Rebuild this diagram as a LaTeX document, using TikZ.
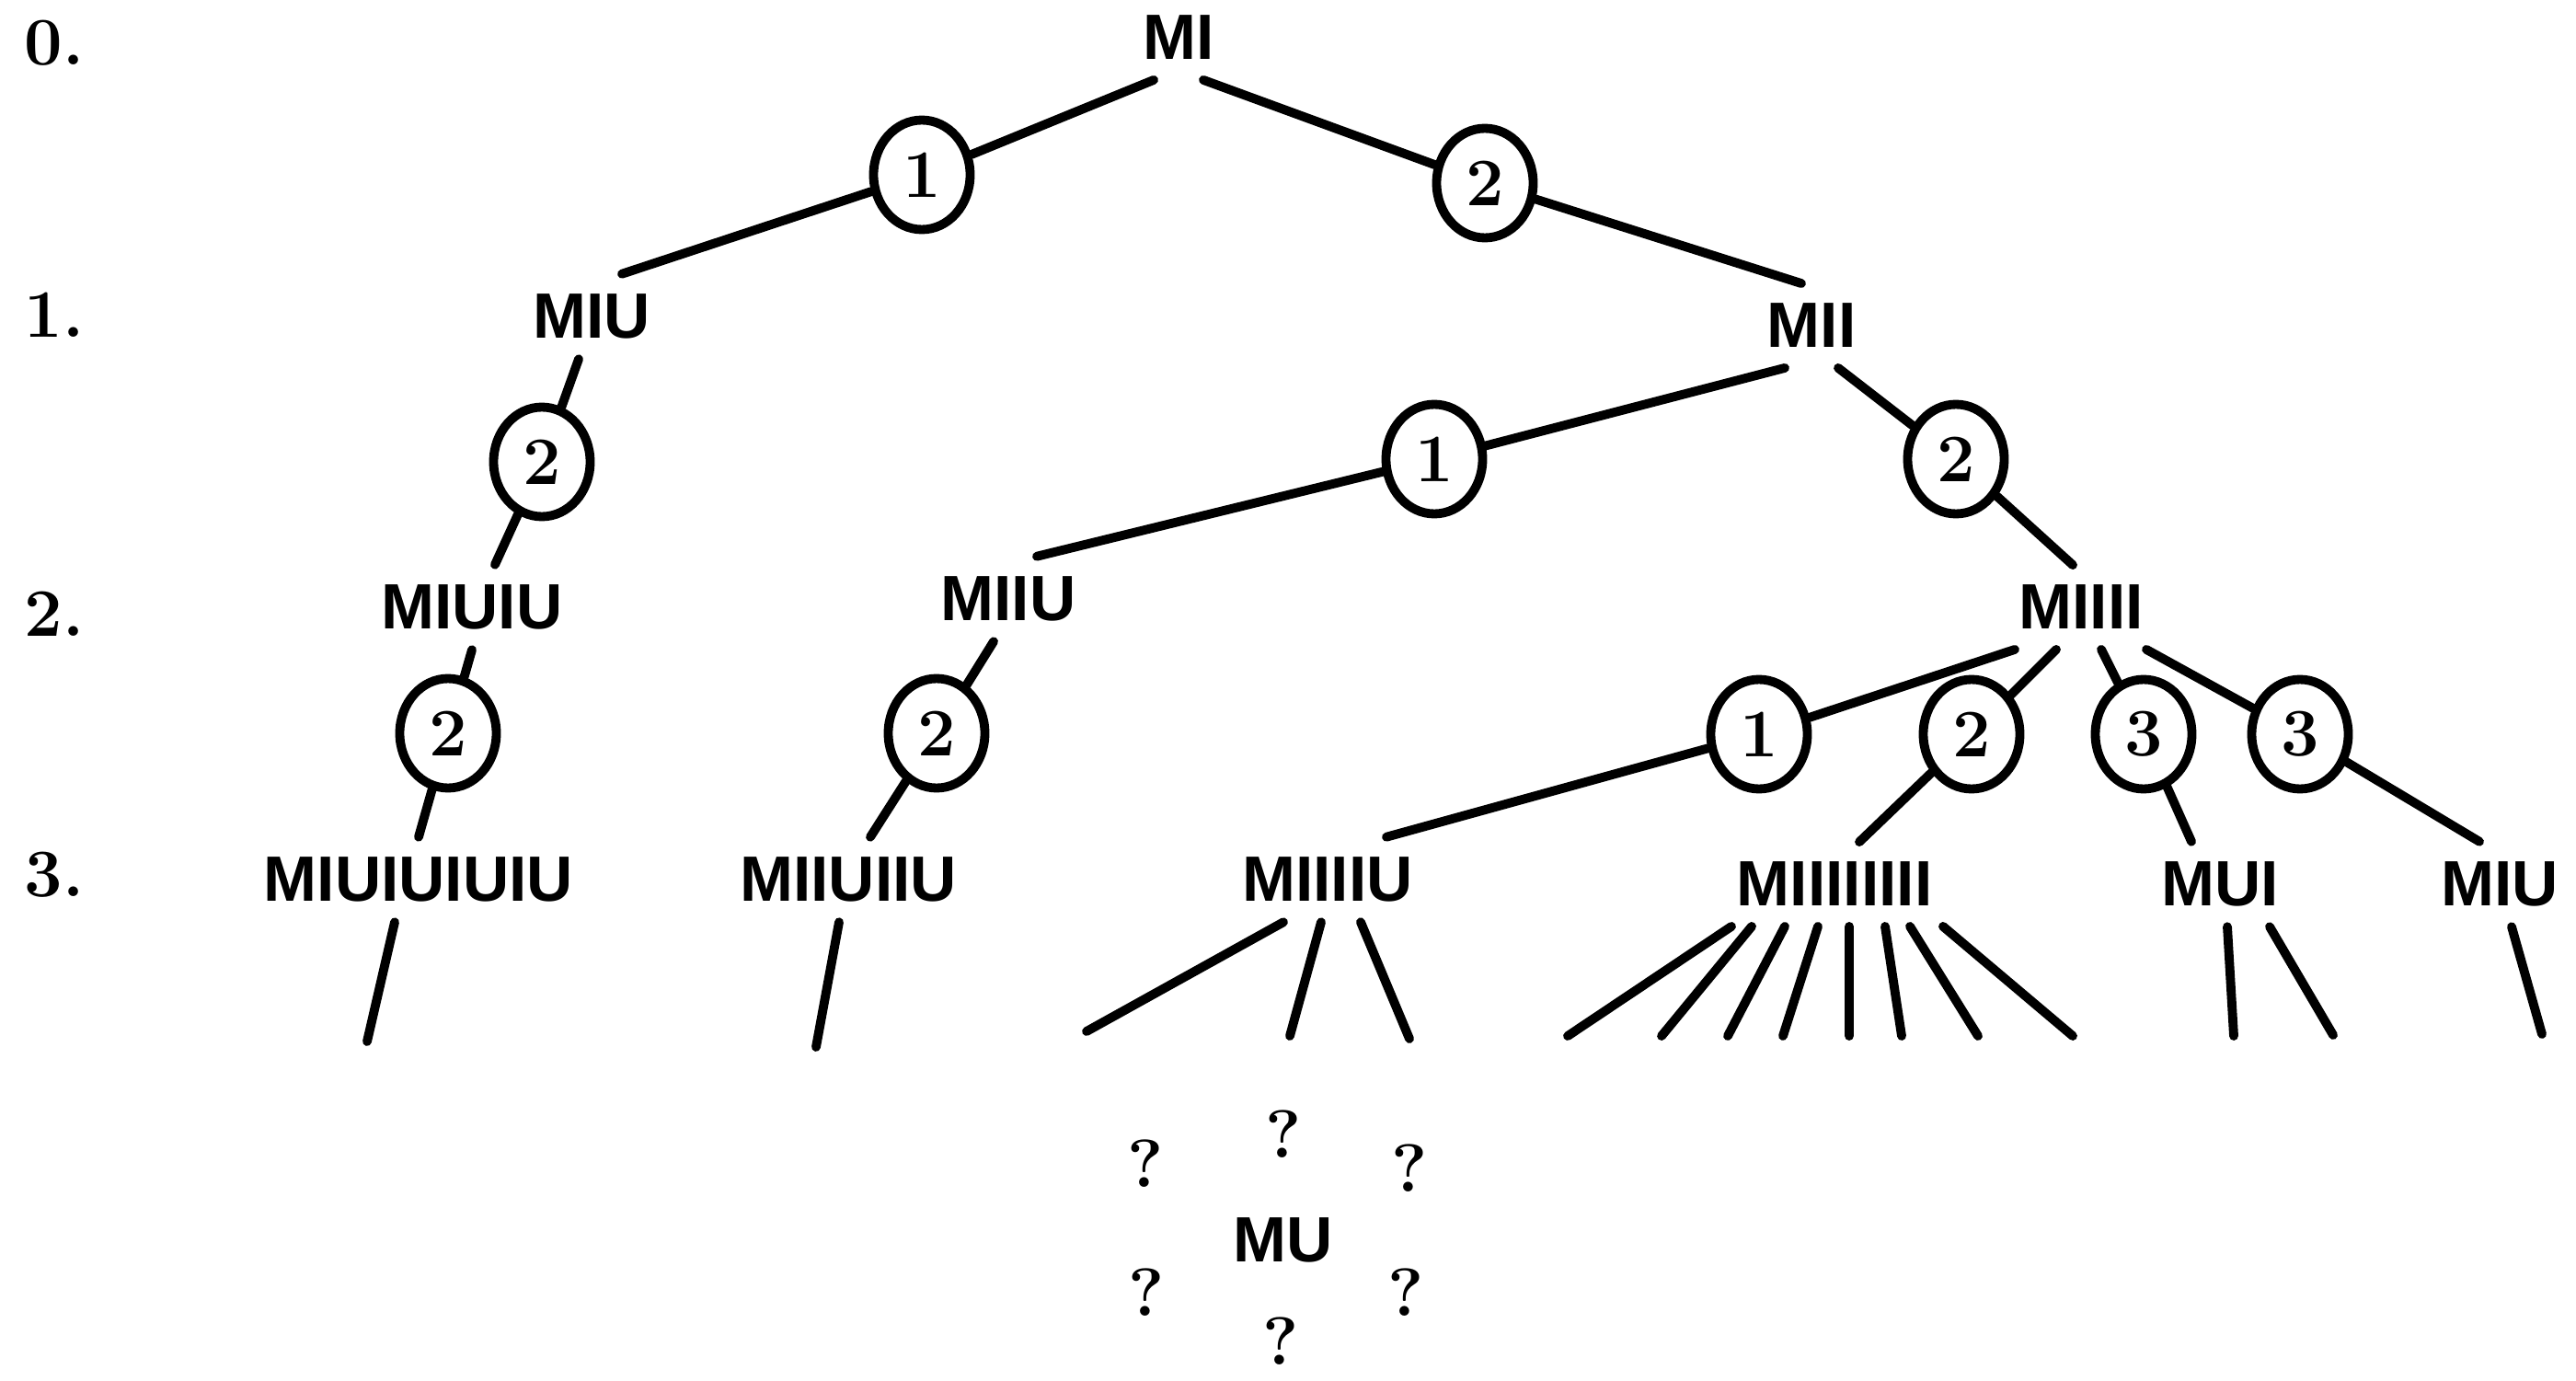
\documentclass[tikz,border=0pt]{standalone}
\usepackage{fontspec}
\newfontfamily\wordfont{Liberation Sans}
\usetikzlibrary{shapes.geometric}

\begin{document}
\begin{tikzpicture}[
	word/.style = {font = \wordfont\bfseries\fontsize{19.8}{24}\selectfont, inner sep = 0pt, outer xsep = 0pt, outer ysep = 0.22cm},
	rule/.style = {ellipse, draw, inner sep = 0pt, minimum width = 1.05cm, minimum height = 1.19cm, font = \bfseries\fontsize{21}{24}\selectfont},
	level/.style = {anchor = west, inner sep = 0pt, font = \bfseries\fontsize{21}{24}\selectfont},
	query/.style = {inner sep = 0pt, font = \bfseries\fontsize{21}{24}\selectfont},
	line width = 2.8pt, line cap = round
]
	\useasboundingbox (0,0) rectangle (28,15);

	\node [level] (l0) at (0.22,14.53) {0.};
	\node [level] (l1) at (0.22,11.58) {1.};
	\node [level] (l2) at (0.22,8.33) {2.};
	\node [level] (l3) at (0.22,5.49) {3.};

	\node [word] (mi) at (12.81,14.59) {MI};
	\node [word] (miu) at (6.43,11.56) {MIU};
	\node [word] (mii) at (19.69,11.46) {MII};
	\node [word] (miuiu) at (5.13,8.40) {MIUIU};
	\node [word] (miiu) at (10.96,8.49) {MIIU};
	\node [word] (miiii) at (22.62,8.40) {MIIII};
	\node [word] (miuiuiuiu) at (4.55,5.44) {MIUIUIUIU};
	\node [word] (miiuiiu) at (9.22,5.44) {MIIUIIU};
	\node [word] (miiiiu) at (14.43,5.44) {MIIIIU};
	\node [word] (miiiiiiii) at (19.94,5.39) {MIIIIIIII};
	\node [word] (mui) at (24.13,5.39) {MUI};
	\node [word] (miu3) at (27.17,5.39) {MIU};
	\node [word] (mu) at (13.95,1.52) {MU};

	\node [rule] (k1) at (10.02,13.10) {1};
	\node [rule] (k2) at (16.14,13.01) {2};
	\node [rule] (k3) at (5.89,9.98) {2};
	\node [rule] (k4) at (15.59,10.01) {1};
	\node [rule] (k5) at (21.26,10.01) {2};
	\node [rule] (k6) at (4.87,7.03) {2};
	\node [rule] (k7) at (10.18,7.03) {2};
	\node [rule] (k8) at (19.12,7.02) {1};
	\node [rule] (k9) at (21.43,7.02) {2};
	\node [rule] (k10) at (23.30,7.02) {3};
	\node [rule] (k11) at (25.00,7.02) {3};

	\draw ([xshift=-0.27cm]mi.south) -- (k1) -- ([xshift=0.33cm]miu.north);
	\draw ([xshift=0.27cm]mi.south) -- (k2) -- ([xshift=-0.11cm]mii.north);

	\draw ([xshift=-0.14cm]miu.south) -- (k3) -- ([xshift=0.25cm]miuiu.north);
	\draw ([xshift=-0.29cm]mii.south) -- (k4) -- ([xshift=0.31cm]miiu.north);
	\draw ([xshift=0.29cm]mii.south) -- (k5) -- ([xshift=-0.09cm]miiii.north);

	\draw (miuiu.south) -- (k6) -- (miuiuiuiu.north);
	\draw ([xshift=-0.16cm]miiu.south) -- (k7) -- ([xshift=0.24cm]miiuiiu.north);
	\draw ([xshift=-0.72cm]miiii.south) -- (k8) -- ([xshift=0.64cm]miiiiu.north);
	\draw ([xshift=-0.27cm]miiii.south) -- (k9) -- ([xshift=0.27cm]miiiiiiii.north);
	\draw ([xshift=0.22cm]miiii.south) -- (k10) -- ([xshift=-0.31cm]mui.north);
	\draw ([xshift=0.71cm]miiii.south) -- (k11) -- ([xshift=-0.22cm]miu3.north);

	% open ends below level 3
	\coordinate (a1) at (3.99,3.68);
	\coordinate (b1) at (8.87,3.62);
	\draw ([xshift=-0.26cm]miuiuiuiu.south) -- (a1);
	\draw ([xshift=-0.10cm]miiuiiu.south) -- (b1);
	\foreach \s/\x/\y [count=\i] in {-0.48/11.81/3.79, -0.07/14.02/3.74, 0.36/15.32/3.71} {
		\coordinate (c\i) at (\x,\y);
		\draw ([xshift=\s cm]miiiiu.south) -- (c\i);
	}
	\foreach \s/\x [count=\i] in {-1.12/17.04, -0.90/18.06, -0.54/18.78, -0.18/19.38, 0.16/20.10, 0.55/20.67, 0.82/21.50, 1.18/22.53} {
		\coordinate (d\i) at (\x,3.74);
		\draw ([xshift=\s cm]miiiiiiii.south) -- (d\i);
	}
	\coordinate (e1) at (24.28,3.74);
	\coordinate (e2) at (25.36,3.75);
	\draw ([xshift=0.08cm]mui.south) -- (e1);
	\draw ([xshift=0.54cm]mui.south) -- (e2);
	\coordinate (g1) at (27.63,3.76);
	\draw ([xshift=0.13cm]miu3.south) -- (g1);

	\node [query] (q1) at (13.95,2.67) {?};
	\node [query] (q2) at (12.45,2.35) {?};
	\node [query] (q3) at (15.32,2.30) {?};
	\node [query] (q4) at (12.46,0.95) {?};
	\node [query] (q5) at (15.28,0.95) {?};
	\node [query] (q6) at (13.92,0.42) {?};
\end{tikzpicture}
\end{document}
